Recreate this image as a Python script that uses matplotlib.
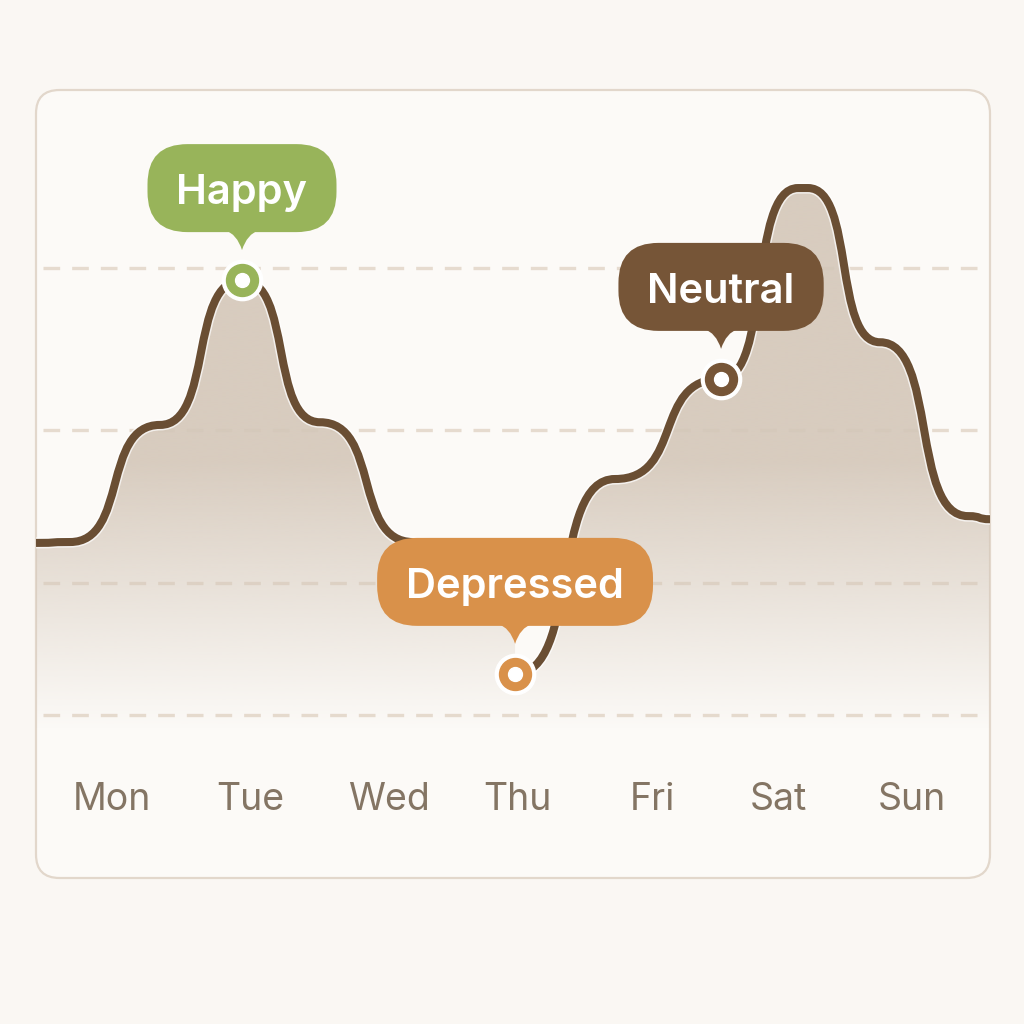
import numpy as np
import matplotlib
matplotlib.use("Agg")
import matplotlib.pyplot as plt
from matplotlib.path import Path
from matplotlib.patches import PathPatch, FancyBboxPatch
from matplotlib.colors import to_rgb
from matplotlib.transforms import ScaledTranslation
from matplotlib import patheffects as pe

plt.rcParams['font.family'] = ['Inter', 'DejaVu Sans']

days = ["Mon", "Tue", "Wed", "Thu", "Fri", "Sat", "Sun"]
day_pos = [0, 1.04, 2.08, 3.04, 4.05, 5.0, 6.0]

# knots of the mood curve: day position and mood score
# (the line is hidden under the "Depressed" label between Wed and Thu)
knot_day = [-0.57, -0.315, 0.36, 0.975, 1.56, 2.258, 3.023,
            3.023, 3.773, 4.568, 5.145, 5.22, 5.76, 6.42, 6.59]
knot_mood = [38.5, 38.7, 64.9, 97.3, 65.5, 38.7, 25.7,
             9.2, 52.8, 75.2, 117.9, 117.9, 83.4, 44.5, 43.8]
BREAK = 7  # line restarts at the Thu point

grid_levels = [0, 29.5, 63.8, 100]

mood_names = ["Happy", "Depressed", "Neutral"]
mood_day = [0.975, 3.023, 4.568]
mood_value = [97.3, 9.2, 75.2]
mood_colors = ["#98B45A", "#D9914A", "#765537"]

BG = "#FAF7F3"
CARD = "#FCFAF7"
LINE = "#6A4E33"
FILL = "#D4C7B9"
XMIN, XMAX = -0.57, 6.585
YMIN, YMAX = -10.07, 137.6


def smooth_path(xs, ys, k=0.65):
    verts = [(xs[0], ys[0])]
    codes = [Path.MOVETO]
    for x0, y0, x1, y1 in zip(xs[:-1], ys[:-1], xs[1:], ys[1:]):
        dx = x1 - x0
        verts += [(x0 + k * dx, y0), (x1 - k * dx, y1), (x1, y1)]
        codes += [Path.CURVE4] * 3
    return verts, codes


fig = plt.figure(figsize=(10.24, 10.24), dpi=100, facecolor=BG)

card = FancyBboxPatch((36 / 1024, 146 / 1024), 954 / 1024, 788 / 1024,
                      boxstyle="round,pad=0,rounding_size=0.023",
                      transform=fig.transFigure, fc=CARD, ec="#E2D7CB", lw=1.6, zorder=-1)
fig.add_artist(card)

ax = fig.add_axes([36 / 1024, 264 / 1024, 954 / 1024, 660 / 1024])
ax.set_facecolor("none")
for s in ax.spines.values():
    s.set_visible(False)

for g in grid_levels:
    ax.axhline(g, xmin=0.007, xmax=0.998, color="#E6DBCF", lw=2.4,
               dashes=(5, 3.6), zorder=0.5)

v1, c1 = smooth_path(knot_day[:BREAK], knot_mood[:BREAK])
v2, c2 = smooth_path(knot_day[BREAK:], knot_mood[BREAK:])
fill_path = Path(v1 + v2 + [(knot_day[-1], YMIN), (knot_day[0], YMIN), (knot_day[0], knot_mood[0])],
                 c1 + [Path.LINETO] + c2[1:] + [Path.LINETO, Path.LINETO, Path.CLOSEPOLY])

# vertical fade of the area under the curve
yg = np.linspace(YMIN, YMAX, 500)
rgba = np.zeros((500, 1, 4))
rgba[..., :3] = to_rgb(FILL)
rgba[:, 0, 3] = np.clip((yg + 3.4) / 67, 0, 0.9)
im = ax.imshow(rgba, extent=[XMIN, XMAX, YMIN, YMAX], origin="lower",
               aspect="auto", interpolation="bilinear", zorder=1)
im.set_clip_path(fill_path, transform=ax.transData)

halo = [pe.Stroke(linewidth=8.0, foreground="white", alpha=0.7), pe.Normal()]
for v, c in ((v1, c1), (v2, c2)):
    ax.add_patch(PathPatch(Path(v, c), fill=False, ec=LINE, lw=5.8, zorder=3,
                           joinstyle="round", path_effects=halo))

ax.set_xlim(XMIN, XMAX)
ax.set_ylim(YMIN, YMAX)
ax.set_yticks([])
ax.set_xticks(day_pos)
ax.set_xticklabels(days, fontsize=27, color="#847564")
ax.tick_params(axis="x", length=0, pad=16)

renderer = fig.canvas.get_renderer()
for name, d, v, c in zip(mood_names, mood_day, mood_value, mood_colors):
    ax.plot(d, v, "o", ms=29, color="white", zorder=4)
    ax.plot(d, v, "o", ms=23, color=c, zorder=4.1)
    ax.plot(d, v, "o", ms=10, color="white", zorder=4.2)

    trans = fig.dpi_scale_trans + ScaledTranslation(d, v, ax.transData)
    t = ax.text(0, 0.76, name, transform=trans, ha="center", va="baseline",
                fontsize=30, fontweight="semibold", color="white", zorder=6)
    w = t.get_window_extent(renderer).width / fig.dpi + 0.58
    ax.add_patch(FancyBboxPatch((-w / 2, 0.48), w, 0.88,
                                boxstyle="round,pad=0,rounding_size=0.40",
                                transform=trans, fc=c, ec="none", zorder=5))
    tail = Path([(-0.17, 0.50), (-0.05, 0.46), (0, 0.30), (0.05, 0.46), (0.17, 0.50), (-0.17, 0.50)],
                [Path.MOVETO, Path.CURVE3, Path.CURVE3, Path.CURVE3, Path.CURVE3, Path.CLOSEPOLY])
    ax.add_patch(PathPatch(tail, transform=trans, fc=c, ec="none", zorder=5))

fig.savefig("out.png", dpi=100, facecolor=BG)
